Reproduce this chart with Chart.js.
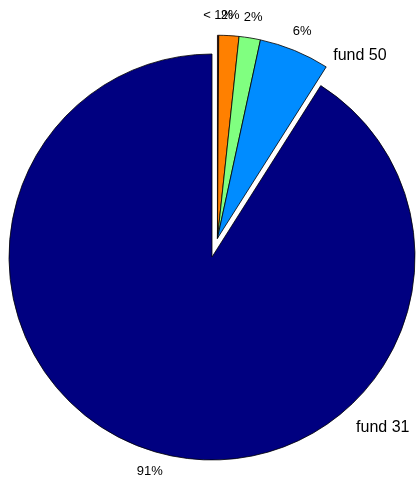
<!DOCTYPE html>
<html>
<head>
<meta charset="utf-8" />
<title>Fund shares</title>
<script src="https://cdn.jsdelivr.net/npm/chart.js@4/dist/chart.umd.min.js"></script>
<style>
	body { margin: 0; background: #fff; }
	#wrap { width: 419px; height: 481px; }
</style>
</head>
<body>
<div id="wrap"><canvas id="pie_chart" width="419" height="481"></canvas></div>

<script>
// slices, clockwise from 12 o'clock
var funds = ['fund ?', 'fund ?', 'fund ?', 'fund 50', 'fund 31'];
var shares = [0.1, 1.6, 1.7, 5.6, 91.0];
var pctLabels = ['< 1%', '2%', '2%', '6%', '91%'];
var exploded = [true, true, true, true, false];
var colors = ['#800000', '#ff8000', '#80ff80', '#008cff', '#000080'];

// extra names written beside two slices: [slice index, degrees from top, radius factor]
var nameSpots = [[3, 38, 1.14], [4, 135, 1.19]];

var explodeDist = 19.5;

var explodePlugin = {
	id: 'explodeGroup',
	afterDatasetUpdate: function(chart) {
		var arcs = chart.getDatasetMeta(0).data;
		var first = -1, last = -1;
		for (var i = 0; i < arcs.length; i++) {
			if (exploded[i]) { if (first < 0) first = i; last = i; }
		}
		if (first < 0) return;
		var mid = (arcs[first].startAngle + arcs[last].endAngle) / 2;
		var dx = Math.cos(mid) * explodeDist, dy = Math.sin(mid) * explodeDist;
		for (var j = first; j <= last; j++) {
			arcs[j].x += dx;
			arcs[j].y += dy;
		}
	}
};

var textPlugin = {
	id: 'pieText',
	afterDraw: function(chart) {
		var ctx = chart.ctx;
		var arcs = chart.getDatasetMeta(0).data;
		ctx.save();
		ctx.fillStyle = '#000';
		ctx.textAlign = 'center';
		ctx.textBaseline = 'middle';
		ctx.font = '13px "Liberation Sans", Arial, sans-serif';
		for (var i = 0; i < arcs.length; i++) {
			var a = arcs[i];
			var mid = (a.startAngle + a.endAngle) / 2;
			var r = a.outerRadius * 1.1;
			ctx.fillText(pctLabels[i], a.x + Math.cos(mid) * r, a.y + Math.sin(mid) * r);
		}
		ctx.font = '16px "Liberation Sans", Arial, sans-serif';
		nameSpots.forEach(function(s) {
			var a = arcs[s[0]];
			var ang = (s[1] - 90) * Math.PI / 180;
			var r = a.outerRadius * s[2];
			ctx.fillText(funds[s[0]], a.x + Math.cos(ang) * r, a.y + Math.sin(ang) * r);
		});
		ctx.restore();
	}
};

new Chart(document.getElementById('pie_chart'), {
	type: 'pie',
	data: {
		labels: funds,
		datasets: [{
			data: shares,
			backgroundColor: colors,
			borderColor: '#000',
			borderWidth: 0.8
		}]
	},
	options: {
		responsive: false,
		animation: false,
		events: [],
		radius: 203,
		layout: { padding: { left: 5, right: 0, top: 33, bottom: 0 } },
		plugins: {
			legend: { display: false },
			tooltip: { enabled: false }
		}
	},
	plugins: [explodePlugin, textPlugin]
});
</script>
</body>
</html>
